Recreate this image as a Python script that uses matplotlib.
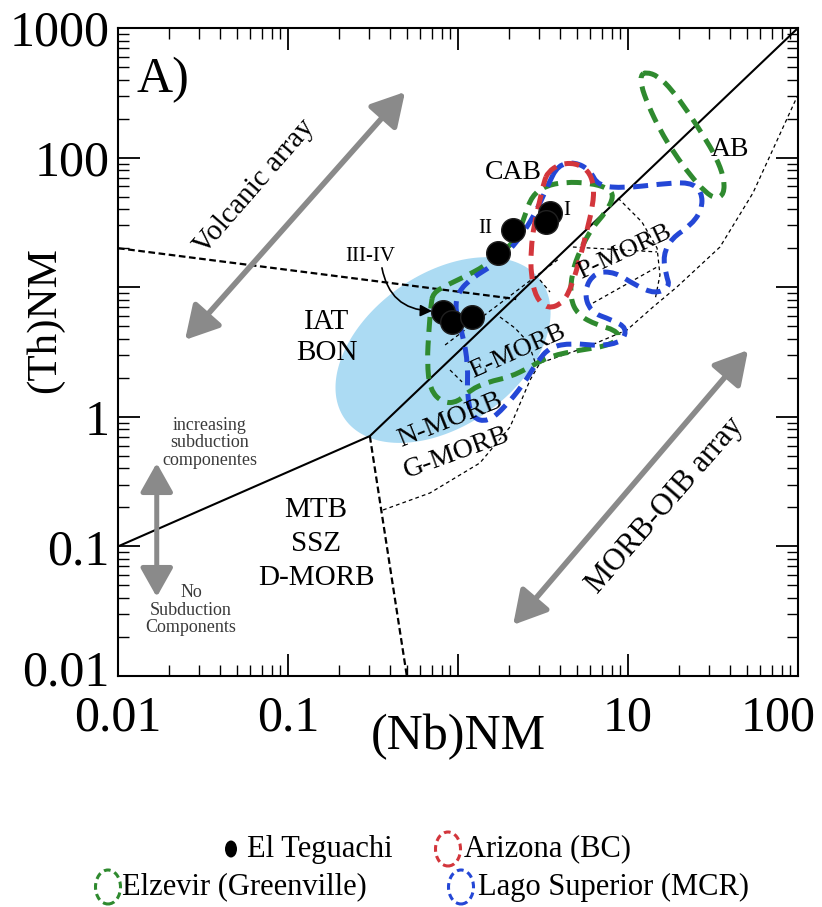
import numpy as np
import matplotlib
matplotlib.use('Agg')
import matplotlib.pyplot as plt
import matplotlib.transforms as mtransforms
from matplotlib.path import Path
from matplotlib.patches import PathPatch, Ellipse
from matplotlib.ticker import FixedLocator, FixedFormatter, LogLocator, NullFormatter

plt.rcParams['font.family'] = ['Liberation Serif', 'DejaVu Serif']

# ---------------- data ----------------
X_TICKS = [0.01, 0.1, 1, 10, 100]
X_TICK_LABELS = ['0.01', '0.1', '', '10', '100']
Y_TICKS = [0.01, 0.1, 1, 10, 100, 1000]
Y_TICK_LABELS = ['0.01', '0.1', '1', '', '100', '1000']

# El Teguachi samples (Nb_NM, Th_NM)
TEG_NB = [3.48, 3.29, 2.11, 1.72, 0.817, 0.923, 1.21]
TEG_TH = [37.4, 31.8, 27.6, 18.4, 6.44, 5.38, 5.89]

# discrimination boundaries (real values)
ARRAY_UPPER_NB = [0.01, 0.303, 100]
ARRAY_UPPER_TH = [0.1, 0.71, 1000]
VOLC_BOUND_NB = [0.01, 2.2]
VOLC_BOUND_TH = [20, 8.1]
MTB_BOUND_NB = [0.303, 0.5]
MTB_BOUND_TH = [0.71, 0.01]

# thin dashed reference lines (log10 units)
ARRAY_LOWER_LNB = [-0.441, -0.165, 0.129, 0.306, 0.424, 0.482, 0.759, 0.994, 1.147, 1.288, 1.541, 1.735, 1.994]
ARRAY_LOWER_LTH = [-0.719, -0.588, -0.356, -0.079, 0.284, 0.415, 0.539, 0.670, 0.847, 1.002, 1.310, 1.727, 2.468]
EMORB_PAR_LNB = [-0.076, 0.6]
EMORB_PAR_LTH = [0.554, 1.225]
EMORB_ARC_LNB = [0.247, 0.335, 0.412, 0.453]
EMORB_ARC_LTH = [0.770, 0.685, 0.577, 0.423]
EMORB_TICK_LNB = [-0.047, 0.024]
EMORB_TICK_LTH = [0.361, 0.269]
PMORB_ARC_LNB = [0.941, 1.082, 1.171, 1.188, 1.159]
PMORB_ARC_LTH = [1.688, 1.503, 1.302, 1.094, 0.901]
PMORB_H_LNB = [0.676, 1.171]
PMORB_H_LTH = [1.31, 1.272]
PMORB_D_LNB = [0.794, 1.171]
PMORB_D_LTH = [0.878, 1.156]
PMORB_S_LNB = [0.482, 0.541]
PMORB_S_LTH = [1.056, 0.963]

# IAT-BON field (log10 centre and conjugate semi-axes in decades)
IAT_CENTER = (-0.088, 0.515)
IAT_AXIS_A = (0.578, 0.531)
IAT_AXIS_B = (0.257, -0.481)

# comparison fields (log10 outlines)
AB_LNB = [1.106, 1.176, 1.259, 1.353, 1.441, 1.518, 1.565, 1.565, 1.518, 1.453, 1.365, 1.271, 1.188, 1.118, 1.076, 1.076]
AB_LTH = [2.660, 2.630, 2.522, 2.352, 2.174, 2.005, 1.843, 1.719, 1.681, 1.735, 1.866, 2.035, 2.213, 2.406, 2.560, 2.637]

AZ_LNB = [0.529, 0.6, 0.688, 0.765, 0.8, 0.794, 0.759, 0.718, 0.671, 0.618, 0.529, 0.459, 0.429, 0.429, 0.447, 0.482, 0.506]
AZ_LTH = [1.889, 1.951, 1.958, 1.904, 1.789, 1.634, 1.441, 1.225, 1.017, 0.878, 0.832, 0.917, 1.094, 1.287, 1.48, 1.673, 1.812]

ELZ_LNB = [-0.147, -0.065, 0.024, 0.159, 0.265, 0.347, 0.394, 0.435, 0.512, 0.629, 0.776, 0.882, 0.918, 0.871,
           0.788, 0.718, 0.671, 0.659, 0.706, 0.818, 0.924, 0.953, 0.876, 0.718, 0.541, 0.424, 0.306, 0.176,
           0.071, 0.0, -0.088, -0.165, -0.182, -0.171, -0.159]
ELZ_LTH = [0.955, 1.017, 1.071, 1.164, 1.272, 1.380, 1.557, 1.704, 1.781, 1.812, 1.804, 1.765, 1.704, 1.580,
           1.457, 1.287, 1.117, 0.917, 0.785, 0.708, 0.670, 0.608, 0.546, 0.515, 0.469, 0.384, 0.307, 0.269,
           0.207, 0.114, 0.106, 0.207, 0.423, 0.670, 0.863]

LAGO_LNB = [0.588, 0.688, 0.776, 0.824, 0.982, 1.188, 1.365, 1.435, 1.435, 1.365, 1.259, 1.206, 1.224, 1.247,
            1.159, 1.041, 0.924, 0.806, 0.741, 0.776, 0.906, 0.994, 0.965, 0.835, 0.671, 0.541, 0.465, 0.382,
            0.276, 0.176, 0.082, 0.053, 0.059, 0.029, -0.018, 0.0, 0.082, 0.2, 0.306, 0.388, 0.465, 0.529]
LAGO_LTH = [1.943, 1.966, 1.904, 1.781, 1.765, 1.796, 1.812, 1.735, 1.596, 1.472, 1.380, 1.248, 1.094, 1.002,
            0.948, 1.017, 1.117, 1.117, 0.978, 0.809, 0.747, 0.685, 0.577, 0.546, 0.569, 0.539, 0.423, 0.245,
            0.076, -0.040, -0.009, 0.168, 0.400, 0.631, 0.824, 0.963, 1.071, 1.164, 1.287, 1.426, 1.596, 1.789]

GREEN = '#2f8a2f'
RED = '#d3363c'
BLUE = '#2447d6'
LIGHTBLUE = '#acdbf3'
GREY = '#8a8a8a'


def closed_smooth_path(lnb, lth):
    P = np.column_stack([lnb, lth]).astype(float)
    M = (P + np.roll(P, -1, axis=0)) / 2.0
    verts = [M[-1]]
    codes = [Path.MOVETO]
    for i in range(len(P)):
        verts += [P[i], M[i]]
        codes += [Path.CURVE3, Path.CURVE3]
    return Path(10 ** np.array(verts), codes)


fig = plt.figure(figsize=(8.22, 9.07), dpi=100)
ax = fig.add_axes([118 / 822, 1 - 676 / 907, 680 / 822, 648 / 907])
ax.set_xscale('log')
ax.set_yscale('log')
ax.set_xlim(0.01, 100)
ax.set_ylim(0.01, 1000)

# IAT-BON field
t = np.linspace(0, 2 * np.pi, 200)
iat_lx = IAT_CENTER[0] + IAT_AXIS_A[0] * np.cos(t) + IAT_AXIS_B[0] * np.sin(t)
iat_ly = IAT_CENTER[1] + IAT_AXIS_A[1] * np.cos(t) + IAT_AXIS_B[1] * np.sin(t)
ax.fill(10 ** iat_lx, 10 ** iat_ly, color=LIGHTBLUE, lw=0, zorder=1)

# main boundaries
ax.plot(ARRAY_UPPER_NB, ARRAY_UPPER_TH, color='black', lw=1.5, zorder=3)
ax.plot(VOLC_BOUND_NB, VOLC_BOUND_TH, color='black', lw=1.6, ls=(0, (3, 1.6)), zorder=3)
ax.plot(MTB_BOUND_NB, MTB_BOUND_TH, color='black', lw=1.6, ls=(0, (3, 1.6)), zorder=3)

thin = dict(color='black', lw=0.9, ls=(0, (3, 2.5)), zorder=3)
for lx, ly in [(ARRAY_LOWER_LNB, ARRAY_LOWER_LTH), (EMORB_PAR_LNB, EMORB_PAR_LTH),
               (EMORB_ARC_LNB, EMORB_ARC_LTH), (EMORB_TICK_LNB, EMORB_TICK_LTH),
               (PMORB_ARC_LNB, PMORB_ARC_LTH), (PMORB_H_LNB, PMORB_H_LTH),
               (PMORB_D_LNB, PMORB_D_LTH), (PMORB_S_LNB, PMORB_S_LTH)]:
    ax.plot(10 ** np.array(lx), 10 ** np.array(ly), **thin)

# comparison fields
dash = (0, (3.0, 1.7))
for lx, ly, c in [(ELZ_LNB, ELZ_LTH, GREEN), (AB_LNB, AB_LTH, GREEN),
                  (LAGO_LNB, LAGO_LTH, BLUE), (AZ_LNB, AZ_LTH, RED)]:
    ax.add_patch(PathPatch(closed_smooth_path(lx, ly), facecolor='none', edgecolor=c,
                           lw=3.6, ls=dash, zorder=4, capstyle='butt'))

# El Teguachi
ax.scatter(TEG_NB, TEG_TH, s=290, color='black', edgecolor='#202020', zorder=6)

# grey arrows
arr = dict(arrowstyle='<|-|>,head_length=0.8,head_width=0.45', color=GREY, lw=4,
           mutation_scale=25, shrinkA=0, shrinkB=0)
ax.annotate('', xy=(0.488, 321), xytext=(0.0248, 3.92), arrowprops=arr, zorder=5)
ax.annotate('', xy=(50.8, 3.27), xytext=(2.11, 0.0248), arrowprops=arr, zorder=5)
arr2 = dict(arrowstyle='<|-|>,head_length=0.8,head_width=0.45', color=GREY, lw=3.6,
            mutation_scale=22, shrinkA=0, shrinkB=0)
ax.annotate('', xy=(0.0169, 0.0407), xytext=(0.0169, 0.44), arrowprops=arr2, zorder=5)

# III-IV pointer
ax.annotate('', xy=(0.703, 6.55), xytext=(0.357, 14.1),
            arrowprops=dict(arrowstyle='-|>,head_length=0.5,head_width=0.25', color='black', lw=1.2,
                            connectionstyle='arc3,rad=0.4', mutation_scale=14, shrinkA=0, shrinkB=0),
            zorder=6)

# labels
ax.text(0.0129, 397, 'A)', fontsize=36, ha='left', va='center')
ax.text(0.064, 59.3, 'Volcanic array', fontsize=21, rotation=49, ha='center', va='center',
        rotation_mode='anchor')
ax.text(16.5, 0.208, 'MORB-OIB array', fontsize=22, rotation=49, ha='center', va='center',
        rotation_mode='anchor')
ax.text(0.1675, 5.38, 'IAT', fontsize=21, ha='center', va='center')
ax.text(0.169, 3.1, 'BON', fontsize=21, ha='center', va='center')
ax.text(0.146, 0.191, 'MTB', fontsize=21, ha='center', va='center')
ax.text(0.146, 0.1045, 'SSZ', fontsize=21, ha='center', va='center')
ax.text(0.146, 0.057, 'D-MORB', fontsize=21, ha='center', va='center')
ax.text(0.0348, 0.628, 'increasing\nsubduction\ncomponentes', fontsize=13, ha='center', va='center',
        color='#3a3a3a', linespacing=1.05)
ax.text(0.0269, 0.0323, 'No\nSubduction\nComponents', fontsize=13, ha='center', va='center',
        color='#3a3a3a', linespacing=1.05)
ax.text(2.13, 77.4, 'CAB', fontsize=20, ha='center', va='center', zorder=7)
ax.text(39.8, 114.6, 'AB', fontsize=20, ha='center', va='center', zorder=7)
ax.text(4.37, 39.4, 'I', fontsize=15, ha='center', va='center', zorder=7)
ax.text(1.44, 28.6, 'II', fontsize=15, ha='center', va='center', zorder=7)
ax.text(0.303, 17.4, 'III-IV', fontsize=15, ha='center', va='center', zorder=7)
ax.text(0.897, 0.944, 'N-MORB', fontsize=20, rotation=22, ha='center', va='center',
        rotation_mode='anchor', zorder=7)
ax.text(0.986, 0.526, 'G-MORB', fontsize=20, rotation=20, ha='center', va='center',
        rotation_mode='anchor', zorder=7)
ax.text(2.25, 3.16, 'E-MORB', fontsize=19, rotation=24, ha='center', va='center',
        rotation_mode='anchor', zorder=7)
ax.text(9.6, 18.7, 'P-MORB', fontsize=19, rotation=25, ha='center', va='center',
        rotation_mode='anchor', zorder=7)

# axes styling
ax.xaxis.set_major_locator(FixedLocator(X_TICKS))
ax.xaxis.set_major_formatter(FixedFormatter(X_TICK_LABELS))
ax.yaxis.set_major_locator(FixedLocator(Y_TICKS))
ax.yaxis.set_major_formatter(FixedFormatter(Y_TICK_LABELS))
for axis in (ax.xaxis, ax.yaxis):
    axis.set_minor_locator(LogLocator(base=10, subs=np.arange(2, 10)))
    axis.set_minor_formatter(NullFormatter())
ax.tick_params(which='both', direction='in', top=True, right=True, labelsize=36)
ax.tick_params(which='major', length=16, width=1.3)
ax.tick_params(which='minor', length=8, width=1.0)
ax.tick_params(axis='x', pad=14)
ax.tick_params(axis='y', pad=6)
for sp in ax.spines.values():
    sp.set_linewidth(1.5)

# keep the last x tick label inside the figure and lift the lowest y label, as in the reference
last = ax.get_xticklabels()[-1]
last.set_transform(last.get_transform() + mtransforms.ScaledTranslation(-0.2, 0, fig.dpi_scale_trans))
first_y = ax.get_yticklabels()[0]
first_y.set_transform(first_y.get_transform() + mtransforms.ScaledTranslation(0, 0.08, fig.dpi_scale_trans))

ax.set_xlabel('(Nb)NM', fontsize=36, va='center')
ax.xaxis.set_label_coords(0.5, -0.094)
ax.set_ylabel('(Th)NM', fontsize=31, va='center')
ax.yaxis.set_label_coords(-0.107, 0.55)


# legend (figure coordinates)
def fx(px):
    return px / 822


def fy(py):
    return 1 - py / 907


ROW1, ROW2 = 849, 887
fig.patches.append(Ellipse((fx(231), fy(ROW1)), 12 / 822, 17 / 907, transform=fig.transFigure,
                           facecolor='black', edgecolor='none'))
fig.text(fx(247), fy(ROW1), 'El Teguachi', fontsize=22, ha='left', va='center')
for (cx, cy, c) in [(448, ROW1, RED), (108, ROW2, GREEN), (461, ROW2, BLUE)]:
    fig.patches.append(Ellipse((fx(cx), fy(cy)), 25 / 822, 34 / 907, transform=fig.transFigure,
                               facecolor='none', edgecolor=c, lw=2.2, ls=(0, (2.2, 1.4))))
fig.text(fx(464), fy(ROW1), 'Arizona (BC)', fontsize=22, ha='left', va='center')
fig.text(fx(122), fy(ROW2), 'Elzevir (Greenville)', fontsize=22, ha='left', va='center')
fig.text(fx(478), fy(ROW2), 'Lago Superior (MCR)', fontsize=22, ha='left', va='center')

fig.savefig('out.png', dpi=100)
